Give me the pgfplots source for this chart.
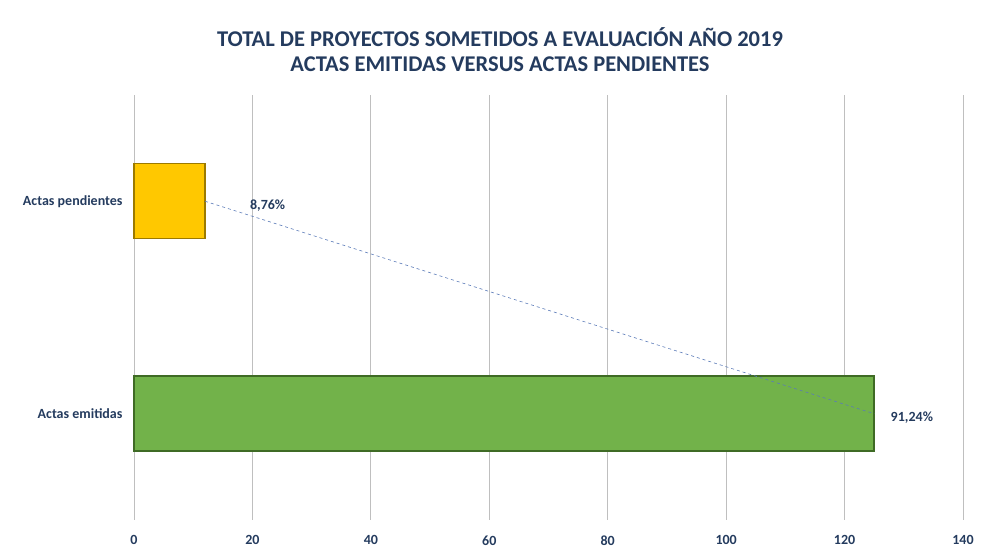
\documentclass[border=0pt]{standalone}
\usepackage{fontspec}
\setmainfont{Carlito}
\usepackage{pgfplots}
\pgfplotsset{compat=1.18}

\definecolor{txt}{HTML}{243B5E}
\definecolor{grid}{HTML}{DEDEDE}
\definecolor{amarillo}{HTML}{FFC800}
\definecolor{amarilloB}{HTML}{9C7A00}
\definecolor{verde}{HTML}{72B24A}
\definecolor{verdeB}{HTML}{3F6B25}
\definecolor{trend}{HTML}{5B7BB8}

\begin{document}
\begin{tikzpicture}[x=1pt,y=1pt]
\path[use as bounding box] (0,0) rectangle (985,554);

\node[font=\bfseries\fontsize{22.5}{25}\selectfont, text=txt, align=center]
  at (500,504) {TOTAL DE PROYECTOS SOMETIDOS A EVALUACIÓN AÑO 2019\\ACTAS EMITIDAS VERSUS ACTAS PENDIENTES};

\begin{axis}[
    at={(134pt,34pt)}, anchor=south west,
    scale only axis,
    width=829pt, height=425pt,
    xbar, bar width=75pt, bar shift=0pt,
    xmin=0, xmax=140,
    ymin=-0.5, ymax=1.5,
    xtick={0,20,...,140},
    ytick={0,1},
    yticklabels={Actas emitidas, Actas pendientes},
    axis line style={draw=none},
    major tick length=0pt,
    xmajorgrids, ymajorgrids=false,
    grid style={grid, line width=0.8pt},
    tick label style={font=\bfseries\fontsize{14}{15}\selectfont, text=txt},
    xticklabel style={yshift=-12pt},
    yticklabel style={xshift=-8pt},
    /pgf/number format/assume math mode=true,
    clip=false,
]
\addplot[fill=verde, draw=verdeB, line width=1.5pt] coordinates {(125,0)};
\addplot[fill=amarillo, draw=amarilloB, line width=1.5pt] coordinates {(12,1)};
\addplot[xbar=false, sharp plot, trend, dashed, line width=0.6pt, mark=none] coordinates {(12,1) (125,0)};
\node[anchor=west, font=\bfseries\fontsize{14}{15}\selectfont, text=txt] at (axis cs:19,0.98) {8,76\%};
\node[anchor=west, font=\bfseries\fontsize{14}{15}\selectfont, text=txt] at (axis cs:127.2,-0.02) {91,24\%};
\end{axis}
\end{tikzpicture}
\end{document}
